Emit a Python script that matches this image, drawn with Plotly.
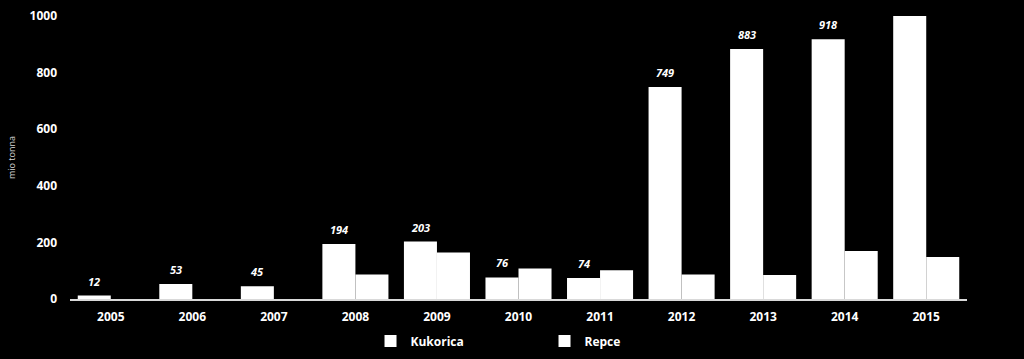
import plotly.graph_objects as go

years = ["2005", "2006", "2007", "2008", "2009", "2010", "2011", "2012", "2013", "2014", "2015"]
kukorica = [12, 53, 45, 194, 203, 76, 74, 749, 883, 918, 1010]
repce = [0, 0, 0, 87, 164, 108, 102, 87, 85, 170, 148]
kukorica_labels = ["12", "53", "45", "194", "203", "76", "74", "749", "883", "918", ""]

FONT = "Open Sans"

fig = go.Figure()
fig.add_trace(go.Bar(name="Kukorica", x=years, y=kukorica, marker=dict(color="white", line=dict(width=0))))
fig.add_trace(go.Bar(name="Repce", x=years, y=repce, marker=dict(color="white", line=dict(width=0))))

for i, (val, lab) in enumerate(zip(kukorica, kukorica_labels)):
    if lab:
        fig.add_annotation(x=i, y=val, text="<b><i>" + lab + "</i></b>", showarrow=False,
                           xshift=-16.5, yshift=5, yanchor="bottom",
                           font=dict(family=FONT, size=11, color="white"))

fig.update_layout(
    width=1024, height=359,
    paper_bgcolor="black", plot_bgcolor="black",
    margin=dict(l=70, r=57, t=16, b=60, autoexpand=False),
    barmode="group", bargap=0.19, bargroupgap=0,
    font=dict(family=FONT, color="white"),
    showlegend=True,
    legend=dict(orientation="h", x=0.529, xanchor="center", y=-0.148, yanchor="middle",
                font=dict(family=FONT, size=12, color="white", weight="bold"),
                entrywidth=129, bgcolor="rgba(0,0,0,0)"),
    xaxis=dict(type="category", range=[-0.5, len(years) - 0.5], showgrid=False, showline=True,
               linecolor="#d9d9d9", linewidth=2,
               tickfont=dict(family=FONT, size=12, color="white", weight="bold"),
               ticks="", ticklabelstandoff=6, zeroline=False),
    yaxis=dict(range=[0, 1000], showgrid=False, zeroline=False, showline=False,
               tickvals=[0, 200, 400, 600, 800, 1000],
               tickfont=dict(family=FONT, size=12, color="white", weight="bold"),
               ticks="", ticklabelstandoff=12,
               title=dict(text="mio tonna", font=dict(family=FONT, size=9, color="#d9d9d9"), standoff=12)),
)

fig.write_html("out.html", config={"displayModeBar": False},
               post_script="document.body.style.margin='0';document.body.style.overflow='hidden';document.body.style.background='black';")
